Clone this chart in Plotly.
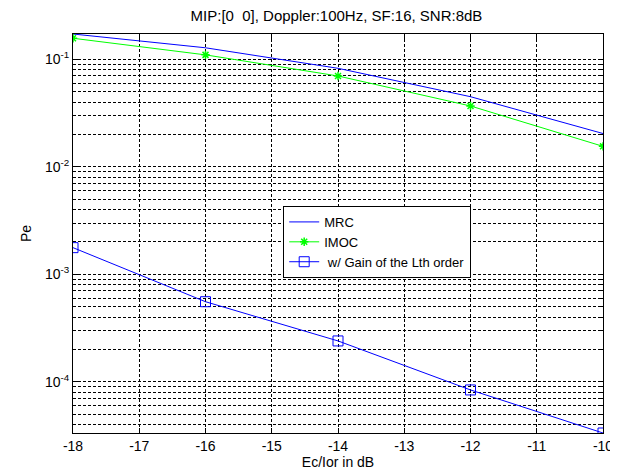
import plotly.graph_objects as go

ec_ior = [-18, -16, -14, -12, -10]
pe_mrc = [0.172, 0.128, 0.0825, 0.0449, 0.0204]
pe_imoc = [0.157, 0.110, 0.070, 0.0368, 0.0155]
pe_gain = [1.77e-3, 5.56e-4, 2.40e-4, 8.4e-5, 3.34e-5]

ytickvals = [1e-4, 1e-3, 1e-2, 1e-1]
yticktext = ["10<sup>-4</sup>", "10<sup>-3</sup>", "10<sup>-2</sup>", "10<sup>-1</sup>"]
xtickvals = list(range(-18, -9))
xticktext = [str(v) for v in xtickvals]

FONT = "Liberation Sans, Arial, Helvetica"

fig = go.Figure()
fig.add_trace(go.Scatter(x=ec_ior, y=pe_mrc, mode="lines", name="MRC",
                         line=dict(color="#0000ff", width=1)))
fig.add_trace(go.Scatter(x=ec_ior, y=pe_imoc, mode="lines+markers", name="IMOC",
                         line=dict(color="#00ff00", width=1),
                         marker=dict(symbol="asterisk-open", size=7,
                                     line=dict(color="#00ff00", width=1.5))))
fig.add_trace(go.Scatter(x=ec_ior, y=pe_gain, mode="lines+markers",
                         name=" w/ Gain of the Lth order",
                         line=dict(color="#0000ff", width=1),
                         marker=dict(symbol="square-open", size=10,
                                     line=dict(color="#0000ff", width=1))))

axis_common = dict(showline=True, linecolor="black", linewidth=1, mirror="ticks",
                   ticks="inside", ticklen=5, tickcolor="black",
                   showgrid=True, gridcolor="black", gridwidth=1, griddash="3px,2px",
                   zeroline=False, automargin=False,
                   tickfont=dict(family=FONT, size=14, color="black"))

fig.update_xaxes(**axis_common, range=[-18, -10], tickvals=xtickvals, ticktext=xticktext,
                 title=dict(text="Ec/Ior in dB", standoff=3,
                            font=dict(family=FONT, size=14, color="black")))
fig.update_yaxes(**axis_common, type="log", range=[-4.4763, -0.7645],
                 tickvals=ytickvals, ticktext=yticktext,
                 minor=dict(dtick="D1", showgrid=True, gridcolor="black", griddash="3px,2px",
                            gridwidth=1, ticks="inside", ticklen=3, tickcolor="black"),
                 title=dict(text="Pe", standoff=10,
                            font=dict(family=FONT, size=14, color="black")))

fig.update_layout(
    width=610, height=468,
    margin=dict(l=65, r=15, t=26, b=43),
    paper_bgcolor="white", plot_bgcolor="white",
    title=dict(text="MIP:[0  0], Doppler:100Hz, SF:16, SNR:8dB", x=0.5385, xanchor="center",
               y=0.983, yanchor="middle",
               font=dict(family=FONT, size=15, color="black")),
    legend=dict(x=0.3966, y=0.569, xanchor="left", yanchor="top",
                bgcolor="white", bordercolor="black", borderwidth=1,
                font=dict(family=FONT, size=13, color="black"),
                tracegroupgap=0, itemwidth=30),
    showlegend=True,
)

fig.write_html("out.html")
